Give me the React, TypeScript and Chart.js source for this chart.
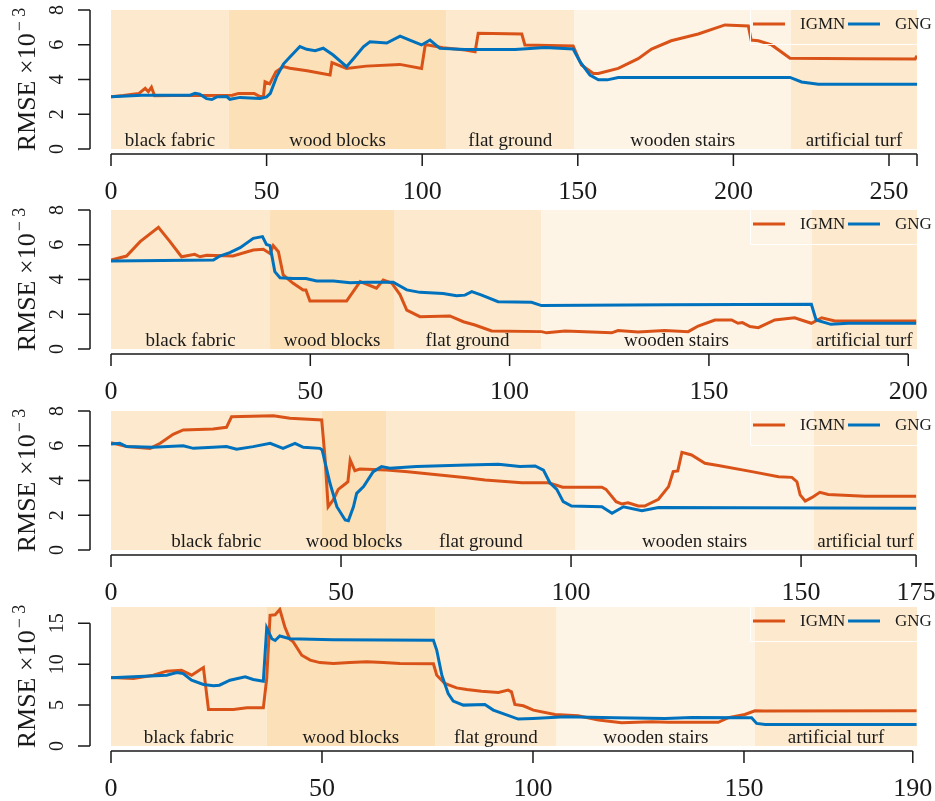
import React, { useEffect, useRef } from "react";
import { Chart, registerables } from "chart.js";
Chart.register(...registerables);

const FONT = '"Liberation Serif", "DejaVu Serif", serif';
const IGMN_COLOR = "#D95319";
const GNG_COLOR = "#0072BD";

const seriesNames = ["IGMN", "GNG"];
const regionNames = ["black fabric", "wood blocks", "flat ground", "wooden stairs", "artificial turf"];
const regionColors = ["rgb(253,234,206)", "rgb(252,224,184)", "rgb(253,234,206)", "rgb(254,244,230)", "rgb(253,234,206)"];

// ---------- Panel 1 ----------
const xMax1 = 259;
const yMax1 = 8;
const bounds1 = [0, 37.9, 107.7, 148.9, 218.5, 259];
const xTicks1 = [0, 50, 100, 150, 200, 250, 259];
const xTickLabels1 = ["0", "50", "100", "150", "200", "250", ""];
const yTicks1 = [0, 2, 4, 6, 8];
const igmnX1 = [0, 4, 7, 9, 11, 12, 13, 14, 20, 30, 39, 41, 46, 48, 49, 49.5, 51, 53, 55.4, 57.5, 63, 70.4, 71, 75.7, 82, 92.8, 99.8, 101, 106.7, 113.8, 117, 118, 132, 133, 148.5, 151.2, 155, 156.6, 163, 169.4, 173.7, 180, 188.7, 197.3, 204.8, 205.7, 208, 212.3, 218.2, 240, 258.4, 259];
const igmnY1 = [3.01, 3.08, 3.15, 3.2, 3.49, 3.3, 3.56, 3.06, 3.08, 3.08, 3.1, 3.2, 3.2, 3.0, 3.05, 3.87, 3.75, 4.45, 4.74, 4.65, 4.5, 4.26, 4.97, 4.64, 4.77, 4.87, 4.64, 6.02, 5.83, 5.7, 5.6, 6.66, 6.62, 5.99, 5.93, 4.83, 4.35, 4.35, 4.64, 5.2, 5.75, 6.23, 6.62, 7.14, 7.08, 6.27, 6.23, 5.99, 5.22, 5.2, 5.18, 5.37];
const gngX1 = [0, 5, 10, 25.4, 27, 28.5, 30.7, 32.4, 34, 37.2, 38.2, 41.5, 47.9, 50, 51.2, 53.2, 55.4, 57.5, 60.7, 62.9, 65.6, 68.2, 71.4, 75.7, 77.9, 81.1, 83.2, 88.6, 92.9, 96, 99.8, 102.5, 105.7, 113.8, 129.8, 139.5, 148.5, 150.7, 153.9, 156.6, 159.5, 163, 218.2, 221.9, 227.3, 259];
const gngY1 = [3.0, 3.05, 3.1, 3.1, 3.2, 3.15, 2.9, 2.85, 3.0, 3.02, 2.86, 2.97, 2.91, 3.0, 3.2, 4.15, 4.89, 5.3, 5.9, 5.74, 5.66, 5.8, 5.41, 4.74, 5.2, 5.88, 6.17, 6.1, 6.5, 6.27, 5.99, 6.27, 5.79, 5.72, 5.73, 5.84, 5.76, 5.03, 4.26, 3.98, 3.98, 4.12, 4.12, 3.86, 3.73, 3.73];

// ---------- Panel 2 ----------
const xMax2 = 202.2;
const yMax2 = 8;
const bounds2 = [0, 39.9, 71, 107.9, 175.8, 202.2];
const xTicks2 = [0, 50, 100, 150, 200];
const xTickLabels2 = ["0", "50", "100", "150", "200"];
const yTicks2 = [0, 2, 4, 6, 8];
const igmnX2 = [0, 3.9, 7.3, 11.9, 14.8, 17.7, 21, 22.3, 24, 30.6, 35.7, 38.2, 39.9, 40.7, 42, 43.2, 45.7, 48.2, 48.9, 49.9, 59.1, 62.5, 66.6, 68.3, 70.4, 72.5, 74.2, 77.5, 85, 88.4, 91.3, 95.5, 108, 109.3, 113.9, 125.6, 127.2, 132.2, 138.9, 144.8, 147.3, 151.5, 155.7, 157.3, 158.4, 160.3, 162.4, 166.5, 171.5, 175.7, 178.3, 181.6, 202];
const igmnY2 = [5.12, 5.35, 6.18, 7.0, 6.18, 5.31, 5.45, 5.31, 5.4, 5.35, 5.7, 5.74, 5.5, 5.95, 5.6, 4.26, 3.78, 3.4, 3.4, 2.76, 2.76, 3.88, 3.5, 3.97, 3.8, 3.13, 2.24, 1.86, 1.9, 1.57, 1.38, 1.04, 1.0, 0.93, 1.04, 0.93, 1.06, 0.98, 1.06, 1.0, 1.32, 1.67, 1.67, 1.48, 1.52, 1.29, 1.23, 1.67, 1.8, 1.48, 1.8, 1.61, 1.61];
const gngX2 = [0, 25.7, 27.3, 29.8, 32.4, 35.7, 38, 39, 39.9, 41.1, 42.4, 45.7, 48.9, 51.6, 55.8, 60, 64.2, 70.8, 74.2, 77.5, 83.3, 86.7, 88.8, 90.5, 93, 97.1, 105.5, 108, 140, 175.7, 176.9, 180.6, 185, 202];
const gngY2 = [5.07, 5.12, 5.35, 5.55, 5.83, 6.37, 6.47, 6.02, 5.95, 4.45, 4.1, 4.06, 4.06, 3.91, 3.91, 3.82, 3.84, 3.84, 3.4, 3.26, 3.2, 3.07, 3.1, 3.3, 3.1, 2.72, 2.69, 2.5, 2.55, 2.57, 1.67, 1.42, 1.48, 1.48];

// ---------- Panel 3 ----------
const xMax3 = 175.2;
const yMax3 = 8;
const bounds3 = [0, 45.8, 59.9, 100.9, 152.8, 175.2];
const xTicks3 = [0, 50, 100, 150, 175];
const xTickLabels3 = ["0", "50", "100", "150", "175"];
const yTicks3 = [0, 2, 4, 6, 8];
const igmnX3 = [0, 3.4, 8.5, 10.7, 13.5, 15.7, 22.2, 25.1, 26.2, 35.3, 38.9, 45.8, 46.5, 47.2, 48.3, 49.4, 50.9, 51.5, 52, 53, 54.1, 59.9, 64.5, 77.3, 81.3, 89.3, 95.1, 98.2, 106.7, 107.6, 109.8, 111, 112.4, 114.6, 116, 119, 121.2, 122.2, 123.2, 124.1, 126.2, 129.1, 132, 139.3, 145.1, 148, 149.1, 149.8, 150.9, 152.3, 154.1, 155.9, 163.9, 175];
const igmnY3 = [6.18, 5.95, 5.85, 6.14, 6.66, 6.91, 6.97, 7.06, 7.67, 7.73, 7.58, 7.48, 5.37, 2.49, 2.88, 3.49, 3.8, 3.93, 5.18, 4.57, 4.66, 4.6, 4.51, 4.16, 4.03, 3.87, 3.87, 3.61, 3.61, 3.49, 2.78, 2.65, 2.72, 2.53, 2.53, 2.92, 3.65, 4.51, 4.55, 5.62, 5.47, 4.99, 4.86, 4.51, 4.22, 4.18, 3.93, 3.17, 2.82, 3.01, 3.32, 3.2, 3.1, 3.1];
const gngX3 = [0, 1.9, 3.4, 9.1, 15.7, 17.9, 22.2, 25.1, 27.3, 30.9, 34.6, 37.4, 40, 41.8, 45.4, 45.9, 47.6, 49.1, 50.9, 51.6, 52.7, 53.4, 54.9, 57, 58.8, 60.6, 66.4, 77.3, 84.2, 88.9, 92.2, 94, 95.4, 96.9, 98.3, 100.1, 106.7, 108.9, 111.4, 115.4, 119, 175];
const gngY3 = [6.1, 6.14, 5.95, 5.91, 6.0, 5.85, 5.91, 5.95, 5.8, 5.95, 6.14, 5.85, 6.14, 5.91, 5.85, 5.76, 3.84, 2.49, 1.73, 1.69, 2.49, 3.26, 3.65, 4.51, 4.8, 4.7, 4.8, 4.89, 4.93, 4.8, 4.84, 4.6, 3.87, 3.49, 2.78, 2.53, 2.49, 2.11, 2.49, 2.26, 2.45, 2.4];

// ---------- Panel 4 ----------
const xMax4 = 191;
const yMax4 = 17;
const bounds4 = [0, 36.9, 76.8, 105.6, 152.6, 191];
const xTicks4 = [0, 50, 100, 150, 190];
const xTickLabels4 = ["0", "50", "100", "150", "190"];
const yTicks4 = [0, 5, 10, 15];
const igmnX4 = [0, 5.3, 10, 13.2, 16.7, 19.1, 21.9, 23.1, 29, 32.2, 36.1, 36.9, 37.7, 38.9, 40, 41.2, 42.4, 43.2, 45.2, 47.2, 49.5, 52.7, 56.6, 60.6, 64.5, 68.5, 76.4, 77.2, 79.1, 81.9, 84.3, 87.8, 91.8, 94.1, 94.9, 95.7, 97.7, 100.1, 105.2, 110.7, 115.5, 121, 128.1, 132.1, 143.9, 146.3, 150.2, 152.6, 154.8, 190.9];
const igmnY4 = [8.38, 8.26, 8.66, 9.15, 9.27, 8.66, 9.6, 4.47, 4.47, 4.67, 4.67, 8.25, 15.98, 16.05, 16.7, 14.55, 13.05, 12.73, 11.1, 10.5, 10.2, 10.1, 10.2, 10.3, 10.2, 10.1, 10.05, 8.66, 7.64, 7.11, 6.9, 6.71, 6.55, 6.83, 6.63, 5.08, 4.92, 4.39, 3.86, 3.7, 3.17, 2.85, 2.97, 2.89, 2.89, 3.46, 3.86, 4.31, 4.27, 4.31];
const gngX4 = [0, 13.2, 15.6, 17.1, 19.1, 21.9, 24.3, 25.7, 28.2, 31.8, 33.7, 36.1, 36.9, 38.1, 38.9, 40, 42.4, 52.7, 76.4, 77.2, 78.4, 79.9, 81.1, 83.5, 88.6, 90.6, 93.4, 96.5, 100, 107.6, 119.4, 131.3, 137.6, 151.8, 153, 155, 190.9];
const gngY4 = [8.34, 8.66, 8.98, 8.86, 8.05, 7.52, 7.36, 7.44, 8.05, 8.46, 8.13, 7.93, 14.43, 13.12, 12.9, 13.45, 13.12, 13.0, 12.93, 11.7, 8.66, 6.42, 5.49, 5.0, 5.08, 4.39, 3.86, 3.29, 3.37, 3.58, 3.46, 3.37, 3.5, 3.46, 2.76, 2.64, 2.64];

const toPoints = (xs: number[], ys: number[]) => xs.map((x, i) => ({ x, y: ys[i] }));

type PanelCfg = {
  top: number; height: number; plotTop: number; plotBottom: number;
  xMax: number; yMax: number; bounds: number[];
  xTicks: number[]; xTickLabels: string[]; yTicks: number[];
  igmn: { x: number; y: number }[]; gng: { x: number; y: number }[];
};

const panels: PanelCfg[] = [
  { top: 0, height: 200, plotTop: 10, plotBottom: 149, xMax: xMax1, yMax: yMax1, bounds: bounds1, xTicks: xTicks1, xTickLabels: xTickLabels1, yTicks: yTicks1, igmn: toPoints(igmnX1, igmnY1), gng: toPoints(gngX1, gngY1) },
  { top: 200, height: 200, plotTop: 10, plotBottom: 149, xMax: xMax2, yMax: yMax2, bounds: bounds2, xTicks: xTicks2, xTickLabels: xTickLabels2, yTicks: yTicks2, igmn: toPoints(igmnX2, igmnY2), gng: toPoints(gngX2, gngY2) },
  { top: 400, height: 200, plotTop: 11, plotBottom: 150, xMax: xMax3, yMax: yMax3, bounds: bounds3, xTicks: xTicks3, xTickLabels: xTickLabels3, yTicks: yTicks3, igmn: toPoints(igmnX3, igmnY3), gng: toPoints(gngX3, gngY3) },
  { top: 600, height: 201, plotTop: 7, plotBottom: 146, xMax: xMax4, yMax: yMax4, bounds: bounds4, xTicks: xTicks4, xTickLabels: xTickLabels4, yTicks: yTicks4, igmn: toPoints(igmnX4, igmnY4), gng: toPoints(gngX4, gngY4) },
];

const WIDTH = 935;
const PLOT_LEFT = 111;
const PLOT_RIGHT = 917;

function Panel({ cfg }: { cfg: PanelCfg }) {
  const ref = useRef<HTMLCanvasElement | null>(null);
  useEffect(() => {
    const canvas = ref.current;
    if (!canvas) return;
    const decor = {
      id: "decor",
      beforeDatasetsDraw(chart: any) {
        const { ctx, chartArea, scales } = chart;
        const xs = scales.x;
        ctx.save();
        for (let i = 0; i < regionNames.length; i++) {
          const a = xs.getPixelForValue(cfg.bounds[i]);
          const b = xs.getPixelForValue(cfg.bounds[i + 1]);
          ctx.fillStyle = regionColors[i];
          ctx.fillRect(a, chartArea.top, b - a, chartArea.bottom - chartArea.top);
        }
        ctx.fillStyle = "#1a1a1a";
        ctx.font = `19px ${FONT}`;
        ctx.textAlign = "center";
        ctx.textBaseline = "alphabetic";
        for (let i = 0; i < regionNames.length; i++) {
          const a = xs.getPixelForValue(cfg.bounds[i]);
          const b = xs.getPixelForValue(cfg.bounds[i + 1]);
          ctx.fillText(regionNames[i], (a + b) / 2, chartArea.bottom - 3);
        }
        ctx.restore();
      },
      afterDraw(chart: any) {
        const { ctx, chartArea, scales } = chart;
        const xs = scales.x;
        const ys = scales.y;
        ctx.save();
        ctx.strokeStyle = "#1a1a1a";
        ctx.fillStyle = "#1a1a1a";
        ctx.lineWidth = 1.5;
        // y axis
        const yAxisX = 90;
        const y0 = ys.getPixelForValue(cfg.yTicks[0]);
        const y1 = ys.getPixelForValue(cfg.yTicks[cfg.yTicks.length - 1]);
        ctx.beginPath();
        ctx.moveTo(yAxisX, y0);
        ctx.lineTo(yAxisX, y1);
        for (const t of cfg.yTicks) {
          const p = ys.getPixelForValue(t);
          ctx.moveTo(yAxisX, p);
          ctx.lineTo(yAxisX - 12, p);
        }
        ctx.stroke();
        ctx.font = `20px ${FONT}`;
        ctx.textAlign = "center";
        ctx.textBaseline = "middle";
        for (const t of cfg.yTicks) {
          const p = ys.getPixelForValue(t);
          ctx.save();
          ctx.translate(57, p);
          ctx.rotate(-Math.PI / 2);
          ctx.fillText(String(t), 0, 1);
          ctx.restore();
        }
        // y label
        ctx.save();
        ctx.translate(26, (chartArea.top + chartArea.bottom) / 2);
        ctx.rotate(-Math.PI / 2);
        ctx.textBaseline = "alphabetic";
        ctx.textAlign = "left";
        ctx.font = `26px ${FONT}`;
        const main = "RMSE ×10";
        const wMain = ctx.measureText(main).width;
        ctx.font = `18px ${FONT}`;
        const sup = "− 3";
        const wSup = ctx.measureText(sup).width;
        const start = -(wMain + wSup + 2) / 2;
        ctx.font = `26px ${FONT}`;
        ctx.fillText(main, start, 9);
        ctx.font = `18px ${FONT}`;
        ctx.fillText(sup, start + wMain + 2, -1);
        ctx.restore();
        // x axis
        const xAxisY = chartArea.bottom + 5;
        const xa = xs.getPixelForValue(cfg.xTicks[0]);
        const xb = xs.getPixelForValue(cfg.xTicks[cfg.xTicks.length - 1]);
        ctx.beginPath();
        ctx.moveTo(xa, xAxisY);
        ctx.lineTo(xb, xAxisY);
        for (const t of cfg.xTicks) {
          const p = xs.getPixelForValue(t);
          ctx.moveTo(p, xAxisY);
          ctx.lineTo(p, xAxisY + 12);
        }
        ctx.stroke();
        ctx.font = `26px ${FONT}`;
        ctx.textAlign = "center";
        ctx.textBaseline = "middle";
        cfg.xTicks.forEach((t, i) => {
          const lbl = cfg.xTickLabels[i];
          if (lbl) ctx.fillText(lbl, xs.getPixelForValue(t), chartArea.bottom + 43);
        });
        // legend
        const R = chartArea.right;
        const T = chartArea.top;
        ctx.strokeStyle = "rgba(255,255,255,0.95)";
        ctx.lineWidth = 1;
        ctx.beginPath();
        ctx.moveTo(R - 167 + 0.5, T);
        ctx.lineTo(R - 167 + 0.5, T + 34 + 0.5);
        ctx.lineTo(R, T + 34 + 0.5);
        ctx.stroke();
        const ly = T + 14;
        ctx.lineWidth = 3;
        ctx.strokeStyle = IGMN_COLOR;
        ctx.beginPath();
        ctx.moveTo(R - 164, ly);
        ctx.lineTo(R - 132, ly);
        ctx.stroke();
        ctx.strokeStyle = GNG_COLOR;
        ctx.beginPath();
        ctx.moveTo(R - 69, ly);
        ctx.lineTo(R - 37, ly);
        ctx.stroke();
        ctx.fillStyle = "#1a1a1a";
        ctx.font = `17px ${FONT}`;
        ctx.textAlign = "left";
        ctx.textBaseline = "middle";
        ctx.fillText(seriesNames[0], R - 117, ly + 1);
        ctx.fillText(seriesNames[1], R - 22, ly + 1);
        ctx.restore();
      },
    };
    const chart = new Chart(canvas, {
      type: "line",
      data: {
        datasets: [
          { label: seriesNames[0], data: cfg.igmn, borderColor: IGMN_COLOR, borderWidth: 3, pointRadius: 0, tension: 0, fill: false, order: 2 },
          { label: seriesNames[1], data: cfg.gng, borderColor: GNG_COLOR, borderWidth: 3, pointRadius: 0, tension: 0, fill: false, order: 1 },
        ],
      },
      options: {
        animation: false,
        responsive: false,
        maintainAspectRatio: false,
        events: [],
        layout: { padding: { left: PLOT_LEFT, right: WIDTH - PLOT_RIGHT, top: cfg.plotTop, bottom: cfg.height - cfg.plotBottom } },
        plugins: { legend: { display: false }, tooltip: { enabled: false } },
        scales: {
          x: { type: "linear", min: 0, max: cfg.xMax, display: false },
          y: { type: "linear", min: 0, max: cfg.yMax, display: false },
        },
      },
      plugins: [decor],
    } as any);
    return () => chart.destroy();
  }, [cfg]);
  return (
    <canvas
      ref={ref}
      width={WIDTH}
      height={cfg.height}
      style={{ position: "absolute", left: 0, top: cfg.top, width: WIDTH, height: cfg.height }}
    />
  );
}

export default function App() {
  return (
    <div style={{ position: "absolute", left: 0, top: 0, width: WIDTH, height: 801, background: "#fff" }}>
      {panels.map((p, i) => (
        <Panel key={i} cfg={p} />
      ))}
    </div>
  );
}
